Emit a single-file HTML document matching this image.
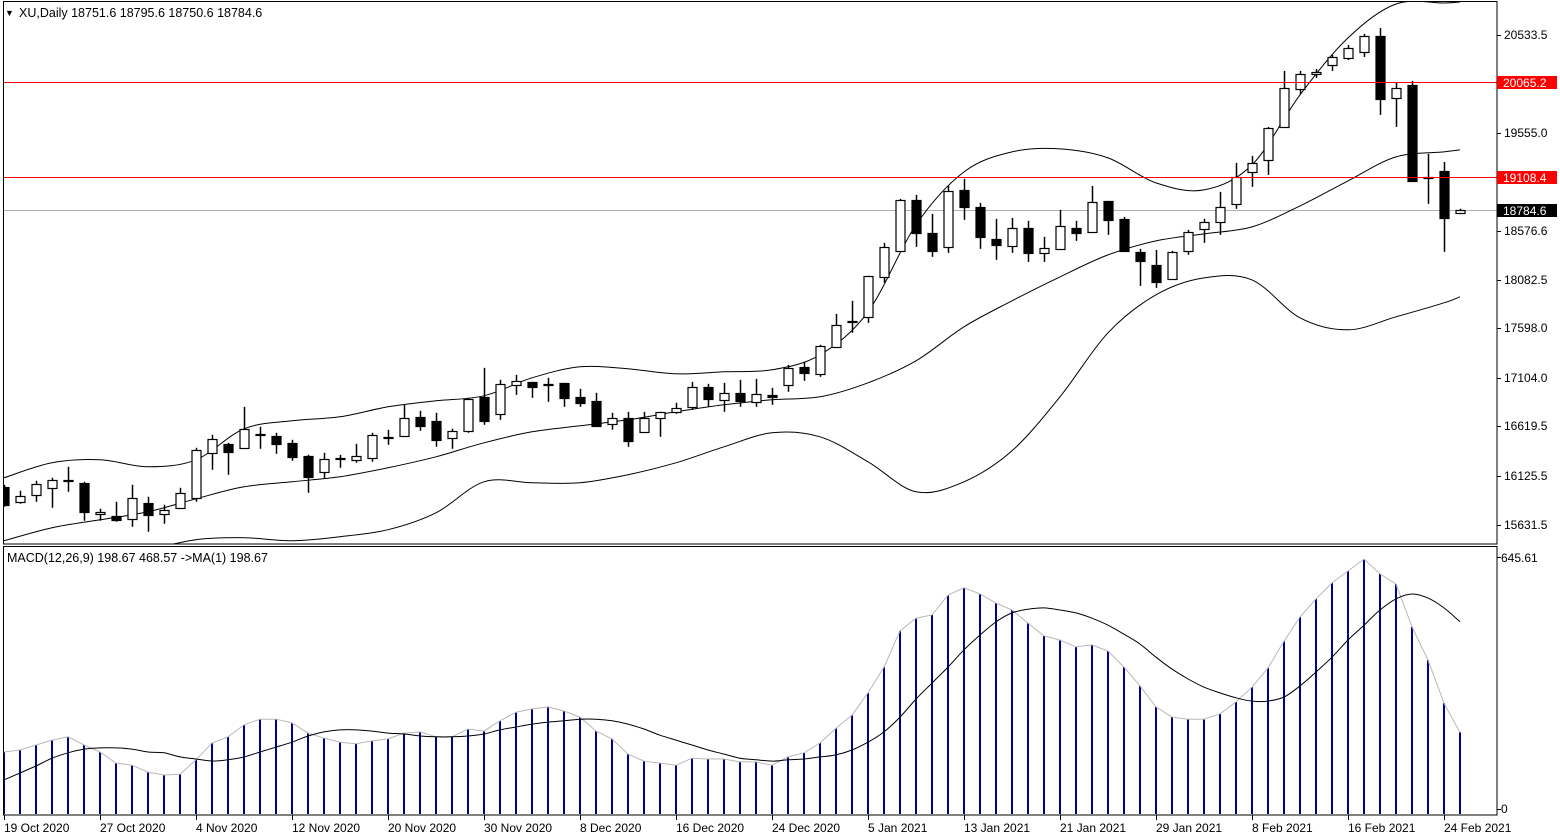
<!DOCTYPE html>
<html><head><meta charset="utf-8"><style>
html,body{margin:0;padding:0;background:#fff;}
svg{display:block;font-family:"Liberation Sans",sans-serif;}
</style></head><body>
<svg id="c" width="1560" height="840" viewBox="0 0 1560 840">
<rect x="0" y="0" width="1560" height="840" fill="#fff"/>
<g id="main"></g>
<g id="macd"></g>
<g id="axes"></g>
</svg>
<script>
const open_ = [16014,15864,15934,16004,16084,16054,15744,15724,15694,15854,15744,15804,15904,16354,16444,16404,16534,16524,16454,16324,16164,16294,16284,16304,16514,16524,16714,16674,16504,16574,16914,16744,17034,17064,17044,17054,16914,16874,16644,16704,16564,16704,16764,16814,17014,16884,16954,16864,16934,17034,17214,17144,17414,17664,17714,18114,18374,18884,18554,18414,18984,18814,18494,18424,18604,18354,18394,18604,18564,18874,18694,18364,18234,18094,18374,18594,18664,18844,19164,19284,19614,19994,20144,20234,20304,20364,20524,19904,20034,19114,19174,18751.6];
const high_ = [16034,15974,16074,16104,16214,16064,15794,15864,16034,15914,15834,16004,16404,16534,16454,16814,16614,16554,16484,16334,16354,16334,16444,16554,16584,16834,16774,16754,16594,16904,17204,17084,17134,17064,17104,17054,16994,16954,16754,16764,16764,16764,16854,17064,17044,17054,17084,17094,17004,17234,17264,17434,17744,17874,18124,18454,18894,18934,18744,19024,19094,18854,18694,18704,18674,18514,18784,18674,19024,18874,18714,18394,18384,18374,18584,18694,18964,19254,19324,19614,20174,20174,20194,20334,20434,20544,20604,20054,20074,19344,19264,18795.6];
const low_ = [15814,15844,15864,15804,15964,15674,15674,15664,15614,15564,15644,15804,15864,16184,16134,16394,16394,16344,16274,15954,16094,16204,16254,16264,16434,16524,16574,16414,16394,16554,16634,16684,16934,16904,16864,16814,16814,16614,16584,16414,16554,16514,16744,16784,16814,16764,16814,16814,16834,16964,17074,17114,17414,17554,17654,18054,18374,18414,18314,18354,18684,18394,18284,18354,18264,18264,18394,18474,18564,18534,18374,18024,18004,18094,18334,18454,18534,18794,19014,19134,19614,19944,20104,20174,20284,20314,19734,19614,19074,18844,18364,18750.6];
const close_ = [15834,15924,16044,16084,16074,15764,15764,15684,15904,15734,15784,15954,16384,16494,16364,16594,16544,16444,16314,16114,16294,16304,16324,16534,16504,16704,16624,16484,16574,16894,16674,17044,17074,17014,17034,16904,16854,16624,16704,16474,16704,16764,16804,17014,16894,16954,16874,16944,16914,17204,17154,17424,17634,17674,18124,18414,18884,18554,18374,18974,18814,18514,18434,18604,18354,18404,18624,18554,18864,18684,18374,18274,18064,18364,18564,18664,18814,19114,19254,19604,20004,20144,20164,20314,20404,20524,19894,20004,19074,19104,18704,18784.6];
const bandIdx = [0,3,6,9,12,15,18,21,24,27,30,33,36,39,42,45,48,51,54,57,60,63,66,69,72,75,78,81,84,87,90,91];
const bandUpper = [16104,16254,16284,16214,16284,16594,16674,16714,16814,16874,16924,17104,17214,17194,17144,17164,17184,17334,17764,18634,19164,19364,19394,19304,19054,18984,19234,19934,20504,20844,20854,20864];
const bandMid = [15474,15604,15684,15764,15894,16014,16064,16114,16204,16314,16454,16564,16624,16684,16764,16834,16884,16914,17054,17274,17614,17874,18114,18334,18474,18544,18614,18824,19074,19314,19364,19384];
const bandLower = [15184,15234,15304,15384,15484,15504,15474,15514,15584,15754,16064,16054,16054,16134,16254,16414,16554,16514,16264,15964,16064,16374,16914,17554,17934,18104,18084,17704,17584,17714,17854,17914];
const macdHist = [151,156,168,180,188,168,151,124,119,102,95,97,132,173,188,217,231,231,222,197,185,175,171,178,183,197,200,188,188,207,202,227,248,256,261,251,236,202,183,146,129,124,119,136,134,134,127,127,119,139,149,173,209,241,295,358,446,477,485,533,551,536,514,497,465,434,424,407,412,397,358,312,261,236,231,231,244,273,309,356,421,480,524,563,592,621,585,560,456,375,270,198.67];
const macdSignal = [83,100,117,136,149,158,161,161,158,151,149,139,134,129,132,139,151,163,175,190,200,205,205,202,197,195,190,188,188,190,195,205,212,219,224,227,231,231,227,219,207,192,180,168,156,146,136,132,129,132,134,139,144,156,175,200,236,280,319,358,400,436,468,490,499,502,497,490,477,460,438,414,382,353,329,309,295,283,275,275,285,312,346,382,424,460,497,524,536,526,502,468.57];
const priceTicks = [20533.5,19555.0,18576.6,18082.5,17598.0,17104.0,16619.5,16125.5,15631.5];
const levelLines = [20065.2,19108.4];
const lastPrice = 18784.6;
const dateIdx = [0,6,12,18,24,30,36,42,48,54,60,66,72,78,84,90];
const dateLabels = ["19 Oct 2020","27 Oct 2020","4 Nov 2020","12 Nov 2020","20 Nov 2020","30 Nov 2020","8 Dec 2020","16 Dec 2020","24 Dec 2020","5 Jan 2021","13 Jan 2021","21 Jan 2021","29 Jan 2021","8 Feb 2021","16 Feb 2021","24 Feb 2021"];
const macdMaxLabel = 645.61;

const NS="http://www.w3.org/2000/svg";
function xOf(i){return 4+16*i;}
function yP(p){return 35+(20533.5-p)*490/4902;}
function yM(v){return 814-v*265/645.61;}
function mk(tag,attrs,parent){const e=document.createElementNS(NS,tag);for(const k in attrs)e.setAttribute(k,attrs[k]);parent.appendChild(e);return e;}
function smooth(pts){
  let d='M'+pts[0][0]+','+pts[0][1].toFixed(1);
  for(let k=0;k<pts.length-1;k++){
    const p0=pts[Math.max(k-1,0)],p1=pts[k],p2=pts[k+1],p3=pts[Math.min(k+2,pts.length-1)];
    const c1x=p1[0]+(p2[0]-p0[0])/6,c1y=p1[1]+(p2[1]-p0[1])/6;
    const c2x=p2[0]-(p3[0]-p1[0])/6,c2y=p2[1]-(p3[1]-p1[1])/6;
    d+=' C'+c1x.toFixed(1)+','+c1y.toFixed(1)+' '+c2x.toFixed(1)+','+c2y.toFixed(1)+' '+p2[0]+','+p2[1].toFixed(1);
  }
  return d;
}
const main=document.getElementById('main'),macd=document.getElementById('macd'),axes=document.getElementById('axes');

const defs=mk('defs',{},document.getElementById('c'));
const cp1=mk('clipPath',{id:'cpm'},defs);mk('rect',{x:4,y:2,width:1493,height:542},cp1);
const cp2=mk('clipPath',{id:'cpd'},defs);mk('rect',{x:4,y:547,width:1493,height:268},cp2);
main.setAttribute('clip-path','url(#cpm)');macd.setAttribute('clip-path','url(#cpd)');

const bl=mk('line',{x1:4,x2:1497,y1:Math.round(yP(lastPrice))+0.5,y2:Math.round(yP(lastPrice))+0.5,stroke:'#b0b0b0','stroke-width':1},main);



[[bandUpper,'bollinger-upper'],[bandMid,'bollinger-middle'],[bandLower,'bollinger-lower']].forEach(([arr,nm])=>{
  const pts=bandIdx.map((i,k)=>[xOf(i),yP(arr[k])]);
  const pl=mk('path',{d:smooth(pts),fill:'none',stroke:'#000','stroke-width':1},main);
  
  
});

for(let i=0;i<open_.length;i++){
  const x=xOf(i),o=open_[i],c=close_[i];
  const g=mk('g',{},main);
  
  
  mk('line',{x1:x+0.5,x2:x+0.5,y1:yP(high_[i]),y2:yP(low_[i]),stroke:'#000','stroke-width':1.5},g);
  const top=Math.round(yP(Math.max(o,c))),bot=Math.round(yP(Math.min(o,c)));
  const up=c>=o;
  mk('rect',{x:x-4,y:top+0.5,width:9,height:Math.max(bot-top,1),fill:up?'#fff':'#000',stroke:'#000','stroke-width':1.2},g);
}

levelLines.forEach((p,k)=>{
  const y=Math.round(yP(p));
  const l=mk('rect',{x:4,width:1493,y:y,height:1,fill:'#ff0000'},main);
  
  
});

for(let i=0;i<macdHist.length;i++){
  const r=mk('rect',{x:xOf(i)-1,y:yM(macdHist[i]),width:2,height:814-yM(macdHist[i]),fill:'#00008b'},macd);
  
  
}
const hl=mk('polyline',{points:macdHist.map((v,i)=>xOf(i)+','+yM(v).toFixed(1)).join(' '),fill:'none',stroke:'#b8b8b8','stroke-width':1},macd);


const sl=mk('path',{d:smooth(macdSignal.map((v,i)=>[xOf(i),yM(v)])),fill:'none',stroke:'#000','stroke-width':1},macd);



const f1=mk('rect',{x:3.5,y:1.5,width:1493.5,height:542.5,fill:'none',stroke:'#000','stroke-width':1},axes);


const f2=mk('rect',{x:3.5,y:546.5,width:1493.5,height:268.5,fill:'none',stroke:'#000','stroke-width':1},axes);



function txt(s,x,y,attrs,name){
  const t=mk('text',Object.assign({x:x,y:y,'font-size':12,fill:'#000'},attrs||{}),axes);
  t.textContent=s;
  
  
  return t;
}
priceTicks.forEach(p=>{
  const y=Math.round(yP(p));
  mk('line',{x1:1497,x2:1501,y1:y+0.5,y2:y+0.5,stroke:'#000'},axes);
  txt(p.toFixed(1),1504,y+4,{},'price-tick-label');
});
levelLines.forEach(p=>{
  const y=Math.round(yP(p));
  const r=mk('rect',{x:1497,y:y-6,width:60,height:13,fill:'#ff0000'},axes);
  
  
  txt(p.toFixed(1),1503,y+5,{fill:'#fff'},'level-price-label');
});
{
  const y=Math.round(yP(lastPrice));
  const r=mk('rect',{x:1497,y:y-6,width:60,height:13,fill:'#000'},axes);
  
  
  txt(lastPrice.toFixed(1),1503,y+5,{fill:'#fff'},'last-price-label');
}
txt(macdMaxLabel.toFixed(2),1501,562,{},'macd-max-label');
txt('0',1501,813,{},'macd-zero-label');
mk('line',{x1:1497,x2:1501,y1:557.5,y2:557.5,stroke:'#000'},axes);
mk('line',{x1:1497,x2:1501,y1:809.5,y2:809.5,stroke:'#000'},axes);
dateIdx.forEach((i,k)=>{
  const x=xOf(i);
  mk('line',{x1:x+0.5,x2:x+0.5,y1:815,y2:820,stroke:'#000'},axes);
  txt(dateLabels[k],x,832,{},'date-label');
});
txt('\u25BC',5,16,{'font-size':9},'symbol-menu-arrow');
txt('XU,Daily  18751.6 18795.6 18750.6 18784.6',19,17,{'xml:space':'preserve','font-size':12.5},'chart-header');
txt('MACD(12,26,9) 198.67 468.57  ->MA(1) 198.67',7,562,{'xml:space':'preserve','font-size':12.5},'macd-header');
</script>
</body></html>
